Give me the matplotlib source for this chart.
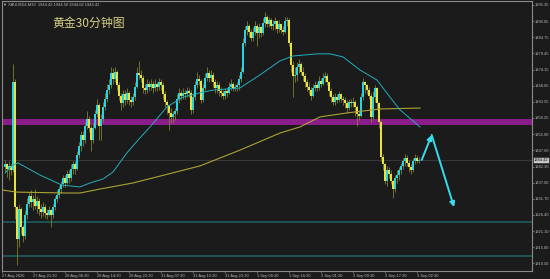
import numpy as np
import matplotlib
matplotlib.use("Agg")
import matplotlib.pyplot as plt
import matplotlib.patheffects as pe
from matplotlib.transforms import blended_transform_factory

plt.rcParams['font.family'] = ['Liberation Sans', 'DejaVu Sans']

# ---------------- data ----------------
first_open = 1942.0
closes = [
    1943.0, 1941.5, 1942.5, 1941.0, 1970.0, 1929.0, 1918.5, 1928.5, 1922.5, 1919.5,
    1926.5, 1930.0, 1932.5, 1930.5, 1931.5, 1929.5, 1931.0, 1928.5, 1927.5, 1929.0,
    1927.0, 1926.5, 1928.0, 1926.5, 1929.0, 1931.5, 1933.0, 1935.0, 1936.5, 1938.5,
    1937.0, 1940.0, 1938.5, 1941.5, 1943.0, 1941.5, 1946.0, 1949.0, 1952.5, 1951.0,
    1955.5, 1958.0, 1955.0, 1951.0, 1955.0, 1959.5, 1962.5, 1955.5, 1958.0, 1962.0,
    1964.5, 1967.5, 1969.0, 1973.0, 1971.0, 1973.5, 1969.0, 1965.5, 1963.0, 1966.0,
    1964.0, 1966.5, 1964.0, 1963.5, 1965.0, 1968.5, 1973.0, 1972.5, 1971.5, 1968.0,
    1967.5, 1969.5, 1968.5, 1969.5, 1968.0, 1969.5, 1968.5, 1970.0, 1969.0, 1966.0,
    1963.5, 1962.5, 1960.0, 1958.5, 1959.5, 1960.5, 1964.5, 1966.5, 1965.5, 1966.5,
    1966.0, 1967.0, 1966.5, 1961.0, 1965.0, 1969.0, 1971.0, 1970.5, 1964.0, 1968.0,
    1971.5, 1973.0, 1971.5, 1972.5, 1970.0, 1968.0, 1969.0, 1967.0, 1966.5, 1965.5,
    1967.0, 1966.5, 1968.5, 1969.5, 1968.0, 1968.5, 1969.0, 1971.0, 1973.5, 1983.0,
    1987.0, 1988.5, 1986.5, 1984.5, 1986.5, 1988.5, 1986.0, 1988.0, 1986.0, 1989.5,
    1991.5, 1989.0, 1990.5, 1988.5, 1989.0, 1990.0, 1987.5, 1989.0, 1987.0, 1986.5,
    1990.0, 1990.5, 1983.0, 1975.5, 1972.0, 1972.5, 1975.0, 1976.0, 1973.5, 1972.0,
    1970.0, 1968.5, 1967.5, 1965.5, 1968.0, 1969.0, 1968.0, 1970.5, 1969.5, 1971.5,
    1972.0, 1970.0, 1967.0, 1965.0, 1963.5, 1965.0, 1964.0, 1966.0, 1964.5, 1964.0,
    1963.0, 1961.5, 1963.5, 1963.0, 1963.5, 1962.0, 1959.5, 1959.0, 1965.0, 1970.0,
    1969.0, 1967.5, 1965.5, 1958.5, 1965.0, 1968.0, 1963.0, 1957.0, 1945.5, 1943.0,
    1937.5, 1941.0, 1940.0, 1937.5, 1935.0, 1938.5, 1939.5, 1941.0, 1942.5, 1944.0,
    1945.0, 1943.5, 1942.0, 1941.0, 1944.0, 1945.0, 1944.0, 1944.42,
]
highs = [
    1944.5, 1943.5, 1944.0, 1943.0, 1976.0, 1971.0, 1929.5, 1930.0, 1929.0, 1923.0,
    1928.0, 1932.0, 1934.0, 1934.5, 1933.0, 1935.0, 1932.5, 1932.0, 1930.0, 1930.5,
    1930.0, 1928.5, 1929.5, 1928.5, 1930.0, 1932.5, 1934.5, 1936.0, 1937.5, 1939.5,
    1939.5, 1941.0, 1941.0, 1943.0, 1944.0, 1944.0, 1947.5, 1950.5, 1954.0, 1954.0,
    1957.0, 1960.5, 1959.0, 1956.0, 1956.5, 1961.0, 1964.5, 1963.0, 1959.5, 1963.5,
    1966.5, 1969.5, 1971.0, 1975.0, 1974.5, 1975.0, 1974.0, 1970.0, 1966.5, 1967.5,
    1967.5, 1968.0, 1967.0, 1965.5, 1966.5, 1970.0, 1975.0, 1977.0, 1974.0, 1972.5,
    1969.5, 1971.0, 1970.5, 1971.0, 1970.5, 1971.0, 1970.0, 1971.5, 1971.0, 1970.0,
    1967.0, 1964.0, 1962.5, 1961.5, 1960.5, 1961.5, 1966.0, 1968.0, 1967.5, 1968.0,
    1967.5, 1968.5, 1968.0, 1967.5, 1966.5, 1970.5, 1973.5, 1972.5, 1971.0, 1969.5,
    1973.0, 1975.0, 1974.0, 1974.0, 1973.5, 1971.0, 1970.5, 1970.0, 1968.5, 1967.5,
    1968.0, 1968.0, 1970.0, 1971.0, 1970.0, 1969.5, 1970.0, 1972.5, 1975.0, 1984.5,
    1988.5, 1990.0, 1989.0, 1987.5, 1988.0, 1990.0, 1989.0, 1989.5, 1988.5, 1991.0,
    1993.0, 1992.0, 1991.5, 1991.0, 1990.5, 1991.5, 1990.5, 1990.5, 1989.5, 1988.5,
    1991.5, 1991.5, 1991.0, 1983.5, 1977.0, 1975.0, 1976.5, 1977.5, 1976.5, 1975.0,
    1973.0, 1971.0, 1970.0, 1968.5, 1969.5, 1970.5, 1970.0, 1972.0, 1971.5, 1973.0,
    1973.5, 1973.0, 1970.5, 1968.0, 1966.0, 1966.5, 1966.0, 1967.0, 1966.5, 1965.5,
    1965.0, 1964.0, 1964.5, 1964.5, 1965.0, 1964.0, 1962.5, 1961.0, 1966.5, 1971.5,
    1970.5, 1969.5, 1968.5, 1966.5, 1967.0, 1969.0, 1968.5, 1963.5, 1957.5, 1946.5,
    1943.5, 1942.5, 1942.0, 1941.0, 1938.0, 1939.5, 1941.0, 1942.0, 1943.5, 1945.0,
    1946.5, 1946.0, 1944.5, 1943.0, 1945.0, 1946.5, 1946.0, 1945.5,
]
lows = [
    1940.5, 1939.0, 1938.0, 1939.5, 1940.5, 1925.0, 1910.0, 1916.0, 1920.0, 1917.5,
    1918.5, 1925.0, 1929.0, 1929.0, 1928.0, 1928.5, 1927.0, 1926.5, 1925.5, 1926.0,
    1925.5, 1925.0, 1926.0, 1922.5, 1925.5, 1928.0, 1930.5, 1932.0, 1933.5, 1935.5,
    1935.5, 1936.5, 1937.0, 1937.5, 1940.0, 1940.0, 1941.0, 1945.0, 1947.5, 1949.0,
    1950.0, 1954.5, 1953.5, 1947.5, 1950.0, 1954.5, 1958.5, 1951.0, 1951.0, 1957.0,
    1961.0, 1963.5, 1966.0, 1968.0, 1969.5, 1970.0, 1967.5, 1964.0, 1961.0, 1962.0,
    1962.5, 1963.0, 1962.5, 1962.0, 1962.5, 1964.0, 1968.0, 1971.0, 1970.0, 1966.5,
    1966.0, 1966.5, 1967.0, 1967.5, 1966.5, 1967.0, 1967.0, 1967.5, 1967.5, 1964.5,
    1962.0, 1959.5, 1954.3, 1956.5, 1956.5, 1957.5, 1959.5, 1963.0, 1964.0, 1964.5,
    1964.5, 1965.0, 1965.0, 1959.5, 1960.0, 1964.0, 1968.0, 1969.0, 1963.0, 1963.5,
    1967.5, 1970.5, 1970.0, 1970.5, 1968.5, 1966.5, 1966.5, 1965.5, 1965.0, 1964.5,
    1964.5, 1965.0, 1966.0, 1967.5, 1967.0, 1967.0, 1967.0, 1967.5, 1970.0, 1973.0,
    1982.0, 1985.5, 1985.0, 1983.5, 1983.5, 1985.5, 1982.0, 1984.5, 1985.0, 1985.5,
    1988.0, 1988.0, 1988.0, 1987.5, 1987.0, 1987.5, 1986.0, 1986.5, 1986.0, 1985.5,
    1986.0, 1988.5, 1982.0, 1973.5, 1965.0, 1970.0, 1970.5, 1973.0, 1972.5, 1970.5,
    1968.5, 1967.0, 1966.0, 1964.0, 1965.0, 1967.0, 1967.0, 1967.5, 1968.5, 1969.0,
    1970.0, 1969.0, 1965.5, 1963.5, 1962.5, 1962.5, 1963.0, 1963.5, 1963.5, 1962.5,
    1961.5, 1960.0, 1961.0, 1962.0, 1962.0, 1959.0, 1955.5, 1957.5, 1958.5, 1964.0,
    1966.5, 1966.0, 1964.5, 1957.0, 1957.5, 1963.5, 1961.0, 1955.0, 1944.0, 1941.0,
    1936.5, 1936.0, 1938.5, 1936.5, 1932.0, 1934.0, 1937.0, 1938.0, 1940.0, 1941.5,
    1942.5, 1942.5, 1940.5, 1940.0, 1940.5, 1943.0, 1943.5, 1943.5,
]

# moving averages
ma_fast_bar = [0, 4, 6.5, 17.5, 28.5, 37.5, 42.5, 49, 54, 61, 66.5, 72.5, 81, 89, 97.5,
               104, 117.5, 127.5, 137.5, 144, 156, 162.5, 169, 177.5, 186, 192.5, 197.5, 207.5]
ma_fast_val = [1940.2, 1942.8, 1943.5, 1939.5, 1936.2, 1935.6, 1936.9, 1938.2, 1940.5,
               1946.8, 1951.0, 1955.3, 1961.9, 1965.1, 1966.5, 1967.4, 1968.1, 1972.4,
               1977.0, 1978.6, 1979.3, 1979.3, 1978.3, 1974.0, 1970.7, 1965.1, 1960.9, 1955.3]
ma_slow_bar = [-1.5, 6, 31, 37.5, 47.5, 64, 76, 97.5, 117.5, 137.5, 147.5, 157.5, 171, 187.5, 207.5]
ma_slow_val = [1934.6, 1933.9, 1933.6, 1933.6, 1934.9, 1936.9, 1938.9, 1942.5, 1947.7,
               1953.3, 1955.3, 1958.6, 1959.9, 1961.2, 1961.5]

ytick_vals = [1995.35, 1990.05, 1984.75, 1979.45, 1974.15, 1968.85, 1963.55, 1958.25,
              1952.90, 1947.60, 1942.30, 1937.00, 1931.70, 1926.40, 1921.10, 1915.80, 1910.50]
xtick_bars = [-1.5, 14, 30, 46, 62, 78, 94, 110, 126, 142, 158, 174, 190, 206]
xtick_labels = ["27 Aug 2020", "27 Aug 21:30", "28 Aug 06:30", "28 Aug 14:30", "28 Aug 22:30",
                "31 Aug 07:30", "31 Aug 15:30", "31 Aug 23:30", "1 Sep 08:30", "1 Sep 16:30",
                "2 Sep 01:30", "2 Sep 09:30", "2 Sep 17:30", "3 Sep 02:30"]

zone_low, zone_high = 1955.94, 1957.81
support_levels = [1924.18, 1913.02]
last_price = 1944.42
arrow_bars = [208.35, 213.35, 224.5]
arrow_prices = [1944.45, 1952.66, 1929.0]

title = "黄金30分钟图"
header = "XAUUSD4,M30  1944.42 1944.50 1944.08 1944.42"

# ---------------- styling ----------------
BG = "#1b1b1b"
UP = "#2ad2e2"
DN = "#e8e23c"
WICK = "#8a8632"
FRAME = "#8a8a8a"
TXT = "#b8b8b8"
FS = 2.9

W, H = 550, 279
fig = plt.figure(figsize=(W / 100, H / 100), dpi=100, facecolor=BG)
ax = fig.add_axes([2 / W, 1 - 271 / H, 530 / W, 270 / H], facecolor=BG)

closes_a = np.array(closes)
opens_a = np.concatenate([[first_open], closes_a[:-1]])
highs_a = np.maximum(np.array(highs), np.maximum(opens_a, closes_a))
lows_a = np.minimum(np.array(lows), np.minimum(opens_a, closes_a))
idx = np.arange(len(closes_a))
up = closes_a >= opens_a

# horizontal levels
ax.axhspan(zone_low, zone_high, color="#8b1d8b", lw=0, zorder=1)
for lv in support_levels:
    ax.axhline(lv, color="#1f6264", lw=1.1, zorder=1)
ax.axhline(last_price, color="#383838", lw=0.7, zorder=1)

# wicks
ax.vlines(idx, lows_a, highs_a, color=WICK, lw=0.55, zorder=2)
# bodies
body_bot = np.minimum(opens_a, closes_a)
body_h = np.maximum(np.abs(closes_a - opens_a), 0.25)
ax.bar(idx[up], body_h[up], bottom=body_bot[up], width=0.7, color=UP, lw=0, zorder=3)
ax.bar(idx[~up], body_h[~up], bottom=body_bot[~up], width=0.7, color=DN, lw=0, zorder=3)

# moving averages
ax.plot(ma_slow_bar, ma_slow_val, color="#aaa434", lw=0.8, zorder=4)
ax.plot(ma_fast_bar, ma_fast_val, color="#22aebe", lw=0.7, zorder=4)

# arrows
shadow = [pe.SimplePatchShadow(offset=(0.8, -0.8), shadow_rgbFace="#777777", alpha=0.8), pe.Normal()]
for k in range(2):
    an = ax.annotate("", xy=(arrow_bars[k + 1], arrow_prices[k + 1]),
                     xytext=(arrow_bars[k], arrow_prices[k]),
                     arrowprops=dict(arrowstyle="-|>", color="#36dcec", lw=1.4,
                                     mutation_scale=7, shrinkA=0, shrinkB=0),
                     zorder=6)
    an.arrow_patch.set_path_effects(shadow)

ax.set_xlim(-1.5, 263.5)
ax.set_ylim(1907.99, 1996.66)

# axes frame / ticks
for s in ax.spines.values():
    s.set_color(FRAME)
    s.set_linewidth(0.8)
ax.yaxis.tick_right()
ax.set_yticks(ytick_vals)
ax.set_yticklabels([f"{v:.2f}" for v in ytick_vals])
ax.tick_params(axis="y", colors=FRAME, labelcolor=TXT, labelsize=FS, length=1.2,
               width=0.5, pad=0.8)
ax.set_xticks(xtick_bars)
ax.set_xticklabels(xtick_labels, ha="left")
ax.tick_params(axis="x", colors=FRAME, labelcolor=TXT, labelsize=FS, length=1.2,
               width=0.5, pad=0.8)

# current price box
tr = blended_transform_factory(ax.transAxes, ax.transData)
ax.text(1.004, last_price, f"{last_price:.2f}", transform=tr, fontsize=FS, color="#111111",
        va="center", ha="left",
        bbox=dict(boxstyle="square,pad=0.12", fc="#c4c4c4", ec="#e0e0e0", lw=0.3),
        zorder=10, clip_on=False)

# texts
fig.text(3 / W, 1 - 4.5 / H, "▼ " + header, fontsize=FS, color=TXT, va="center", ha="left",
         family=["Liberation Sans", "DejaVu Sans"])
fig.text(52 / W, 1 - 23 / H, title, fontsize=8.6, color="#d6d083", va="center", ha="left",
         family=["Noto Sans CJK SC", "DejaVu Sans"])

fig.savefig("out.png", dpi=100, facecolor=BG)
